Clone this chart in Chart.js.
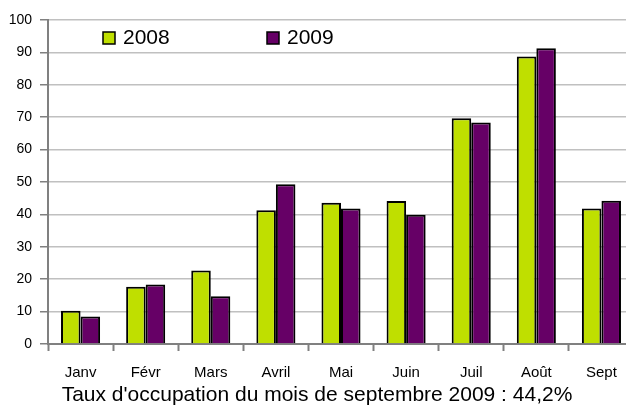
<!DOCTYPE html>
<html>
<head>
<meta charset="utf-8">
<script src="https://cdn.jsdelivr.net/npm/chart.js@4"></script>
<style>
  html, body { margin: 0; padding: 0; background: #fff; overflow: hidden; }
  #wrap { width: 634px; height: 406px; }
</style>
</head>
<body>
<div id="wrap"><canvas id="chart-occupation"></canvas></div>
<script>
const months = ['Janv', 'Févr', 'Mars', 'Avril', 'Mai', 'Juin', 'Juil', 'Août', 'Sept'];
const taux2008 = [10.3, 17.7, 22.7, 41.3, 43.6, 44.1, 69.7, 88.7, 41.8];
const taux2009 = [8.5, 18.4, 14.7, 49.3, 41.8, 39.9, 68.4, 91.3, 44.2];
const yTicks = [0, 10, 20, 30, 40, 50, 60, 70, 80, 90, 100];
const legendNames = ['2008', '2009'];
const titre = "Taux d'occupation du mois de septembre 2009 : 44,2%";

const FONT = '"Liberation Sans", Arial, sans-serif';

// legende dessinee a la main dans la zone du graphique
const innerLegend = {
    id: 'innerLegend',
    afterDraw(chart) {
        const c = chart.ctx;
        const area = chart.chartArea;
        const offsets = [55, 219];
        c.save();
        chart.data.datasets.forEach((ds, i) => {
            const x = area.left + offsets[i];
            const y = area.top + 12;
            c.fillStyle = ds.backgroundColor;
            c.fillRect(x, y, 12, 12);
            c.lineWidth = 1.5;
            c.strokeStyle = '#000';
            c.strokeRect(x, y, 12, 12);
            c.fillStyle = '#000';
            c.font = '21px ' + FONT;
            c.textBaseline = 'middle';
            c.fillText(ds.label, x + 20, y + 6);
        });
        c.restore();
    }
};

new Chart(document.getElementById('chart-occupation'), {
    type: 'bar',
    data: {
        labels: months,
        datasets: [{
            label: legendNames[0],
            data: taux2008,
            backgroundColor: '#bfdf00',
            borderColor: '#000',
            borderWidth: 2
        }, {
            label: legendNames[1],
            data: taux2009,
            backgroundColor: '#660066',
            borderColor: '#000',
            borderWidth: 2
        }]
    },
    options: {
        responsive: true,
        maintainAspectRatio: false,
        animation: false,
        layout: { padding: { top: 20, right: 0, left: 0, bottom: -2 } },
        datasets: { bar: { categoryPercentage: 0.6, barPercentage: 1 } },
        plugins: {
            legend: { display: false },
            tooltip: { enabled: false },
            title: {
                display: true,
                position: 'bottom',
                text: titre,
                color: '#000',
                padding: 0,
                font: { family: FONT, size: 21, weight: 'normal' }
            }
        },
        scales: {
            x: {
                grid: {
                    drawOnChartArea: false,
                    drawTicks: true,
                    tickLength: 7,
                    tickColor: '#808080',
                    tickWidth: 2
                },
                border: { color: '#808080', width: 2 },
                ticks: {
                    color: '#000',
                    padding: 13,
                    maxRotation: 0,
                    font: { family: FONT, size: 15 }
                },
                afterFit(scale) { scale.height = 406 + 2 - 25.2 - 344; }
            },
            y: {
                min: 0,
                max: 100,
                afterBuildTicks(scale) { scale.ticks = yTicks.map(v => ({ value: v })); },
                grid: {
                    color: '#c0c0c0',
                    lineWidth: 1.5,
                    tickLength: 8,
                    tickColor: '#808080'
                },
                border: { color: '#808080', width: 2 },
                ticks: {
                    color: '#000',
                    padding: 8,
                    font: { family: FONT, size: 14 }
                },
                afterFit(scale) { scale.width = 48; }
            }
        }
    },
    plugins: [innerLegend]
});
</script>
</body>
</html>
